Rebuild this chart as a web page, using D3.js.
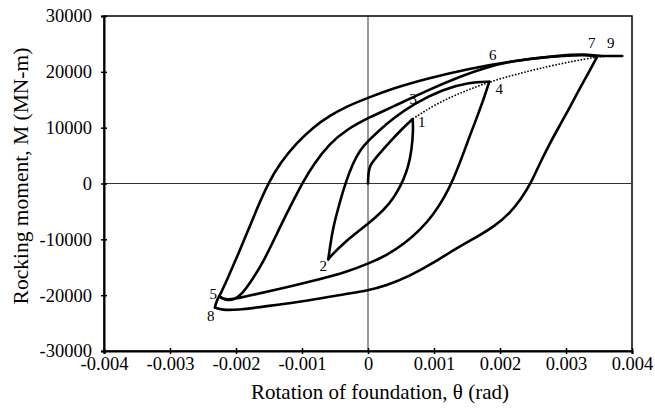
<!DOCTYPE html>
<html>
<head>
<meta charset="utf-8">
<script src="https://cdn.jsdelivr.net/npm/d3@7"></script>
<style>
body { margin: 0; background: #fff; }
text { font-family: "Liberation Serif", "Times New Roman", serif; fill: #000; }
</style>
</head>
<body>
<svg width="655" height="410"></svg>
<script>
// rotation (rad), rocking moment (MN-m)
var branch01 = [[0,0],[0.000005,1880],[0.00003,3310],[0.000132,4800],[0.000333,7490],[0.00053,9940],[0.000677,11550]];
var branch12 = [[0.000677,11550],[0.000686,9580],[0.000662,6000],[0.000611,3000],[0.000535,630],[0.000459,-1160],[0.000333,-3550],[0.000132,-5950],[-0.000121,-8330],[-0.000374,-10710],[-0.000561,-12980],[-0.000602,-13580]];
var branch24 = [[-0.000602,-13580],[-0.000576,-11370],[-0.00053,-7970],[-0.000455,-4570],[-0.000348,-90],[-0.000227,3670],[-0.000121,6000],[0,7610],[0.000182,9650],[0.000379,11620],[0.000682,14200],[0.001136,16890],[0.001545,18140],[0.001838,18230]];
var branch45 = [[0.001838,18230],[0.001758,15310],[0.001652,11910],[0.00153,8150],[0.001409,4210],[0.001288,630],[0.001152,-2600],[0.000985,-5640],[0.000788,-8330],[0.000545,-10840],[0.000288,-12810],[0.00003,-14240],[-0.000318,-15850],[-0.000833,-17460],[-0.001333,-18900],[-0.001833,-20150],[-0.002091,-20860],[-0.002212,-20600],[-0.002242,-20270]];
var branch57 = [[-0.002242,-20270],[-0.002152,-20950],[-0.00203,-20860],[-0.001909,-19790],[-0.001788,-17820],[-0.001591,-14240],[-0.001333,-7790],[-0.001136,-3130],[-0.000985,270],[-0.000833,3310],[-0.000576,7250],[-0.000318,9690],[0,11750],[0.000379,13750],[0.000894,16670],[0.001394,19160],[0.001803,20900],[0.002227,22010],[0.002682,22660],[0.003136,22980],[0.003364,22980],[0.00347,22660]];
var branch78 = [[0.00347,22660],[0.003364,20330],[0.003212,17100],[0.003061,13700],[0.002909,10480],[0.002758,7250],[0.002606,3670],[0.00247,90],[0.002318,-2780],[0.002152,-5280],[0.001924,-7610],[0.001621,-9760],[0.001318,-11730],[0.001015,-14060],[0.000636,-16570],[0.000258,-18360],[0.00003,-19070],[-0.000424,-19970],[-0.000833,-20860],[-0.001591,-22070],[-0.001985,-22660],[-0.002212,-22660],[-0.002318,-22210]];
var branch89 = [[-0.002318,-22210],[-0.002303,-21220],[-0.002227,-19610],[-0.002136,-17280],[-0.001985,-13160],[-0.001833,-8870],[-0.001697,-4930],[-0.001515,0],[-0.001333,3670],[-0.001076,7330],[-0.000833,10050],[-0.000576,12180],[-0.000318,13840],[0,15350],[0.000379,17050],[0.000894,18820],[0.001545,20600],[0.002152,21890],[0.002909,22960],[0.003318,23160],[0.00347,22840],[0.003853,22840]];
var backbone = [[0.000677,11550],[0.001041,14360],[0.001444,16440],[0.001838,18230],[0.002303,19740],[0.002808,21220],[0.003465,22710],[0.003697,22840]];
var pointLabels = ["1","2","3","4","5","6","7","8","9"];
var labelTheta = [0.000814,-0.000677,0.000686,0.001989,-0.002344,0.001889,0.003389,-0.002383,0.003677];
var labelM = [11070,-14780,15260,17050,-19670,23010,25220,-23730,25220];
var xTicks = [-0.004,-0.003,-0.002,-0.001,0,0.001,0.002,0.003,0.004];
var yTicks = [-30000,-20000,-10000,0,10000,20000,30000];

var svg = d3.select("svg");
var marginLeft = 104, marginTop = 16, width = 528, height = 335;
var g = svg.append("g").attr("transform", "translate(" + marginLeft + "," + marginTop + ")");

var x = d3.scaleLinear().domain([-0.004, 0.004]).range([0, width]);
var y = d3.scaleLinear().domain([-30000, 30000]).range([height, 0]);

// frame
g.append("rect").attr("x", 0).attr("y", 0).attr("width", width).attr("height", height)
  .attr("fill", "none").attr("stroke", "#000").attr("stroke-width", 1.5);

// zero lines
g.append("line").attr("x1", 0).attr("x2", width).attr("y1", y(0)).attr("y2", y(0))
  .attr("stroke", "#333").attr("stroke-width", 1);
g.append("line").attr("x1", x(0)).attr("x2", x(0)).attr("y1", 0).attr("y2", height)
  .attr("stroke", "#333").attr("stroke-width", 1);

// axes with crossing ticks
var xAxis = g.append("g").attr("transform", "translate(0," + height + ")")
  .call(d3.axisBottom(x).tickValues(xTicks).tickSize(3).tickPadding(3)
    .tickFormat(function(d) { return d === 0 ? "0" : d.toFixed(3); }));
var yAxis = g.append("g")
  .call(d3.axisLeft(y).tickValues(yTicks).tickSize(3).tickPadding(9)
    .tickFormat(function(d) { return String(d); }));
[xAxis, yAxis].forEach(function(a) {
  a.select(".domain").attr("stroke", "#000").attr("stroke-width", 2);
  a.selectAll(".tick line").attr("stroke", "#000").attr("stroke-width", 1.5);
  a.selectAll("text").style("font-family", "Liberation Serif").style("font-size", "18.5px");
});
xAxis.selectAll(".tick line").attr("y1", -3);
yAxis.selectAll(".tick line").attr("x1", 3);

var line = d3.line().x(function(d) { return x(d[0]); }).y(function(d) { return y(d[1]); })
  .curve(d3.curveBasis);

// backbone (dotted)
g.append("path").datum(backbone).attr("d", line).attr("fill", "none")
  .attr("stroke", "#000").attr("stroke-width", 1.6).attr("stroke-dasharray", "1.6,1.6");

var branches = [branch01, branch12, branch24, branch45, branch57, branch78, branch89];
g.selectAll(".loop").data(branches).enter().append("path").attr("class", "loop")
  .attr("d", line).attr("fill", "none").attr("stroke", "#000").attr("stroke-width", 2.6)
  .attr("stroke-linejoin", "round").attr("stroke-linecap", "round");

g.selectAll(".pt").data(pointLabels).enter().append("text").attr("class", "pt")
  .attr("x", function(d, i) { return x(labelTheta[i]); })
  .attr("y", function(d, i) { return y(labelM[i]); })
  .attr("dy", "0.35em").attr("text-anchor", "middle")
  .style("font-size", "15px").text(function(d) { return d; });

// axis titles
svg.append("text").attr("x", 380).attr("y", 399).attr("text-anchor", "middle")
  .style("font-size", "21px").text("Rotation of foundation, \u03b8 (rad)");
svg.append("text").attr("transform", "translate(28,176) rotate(-90)")
  .attr("text-anchor", "middle").style("font-size", "21.5px").text("Rocking moment, M (MN-m)");
</script>
</body>
</html>
